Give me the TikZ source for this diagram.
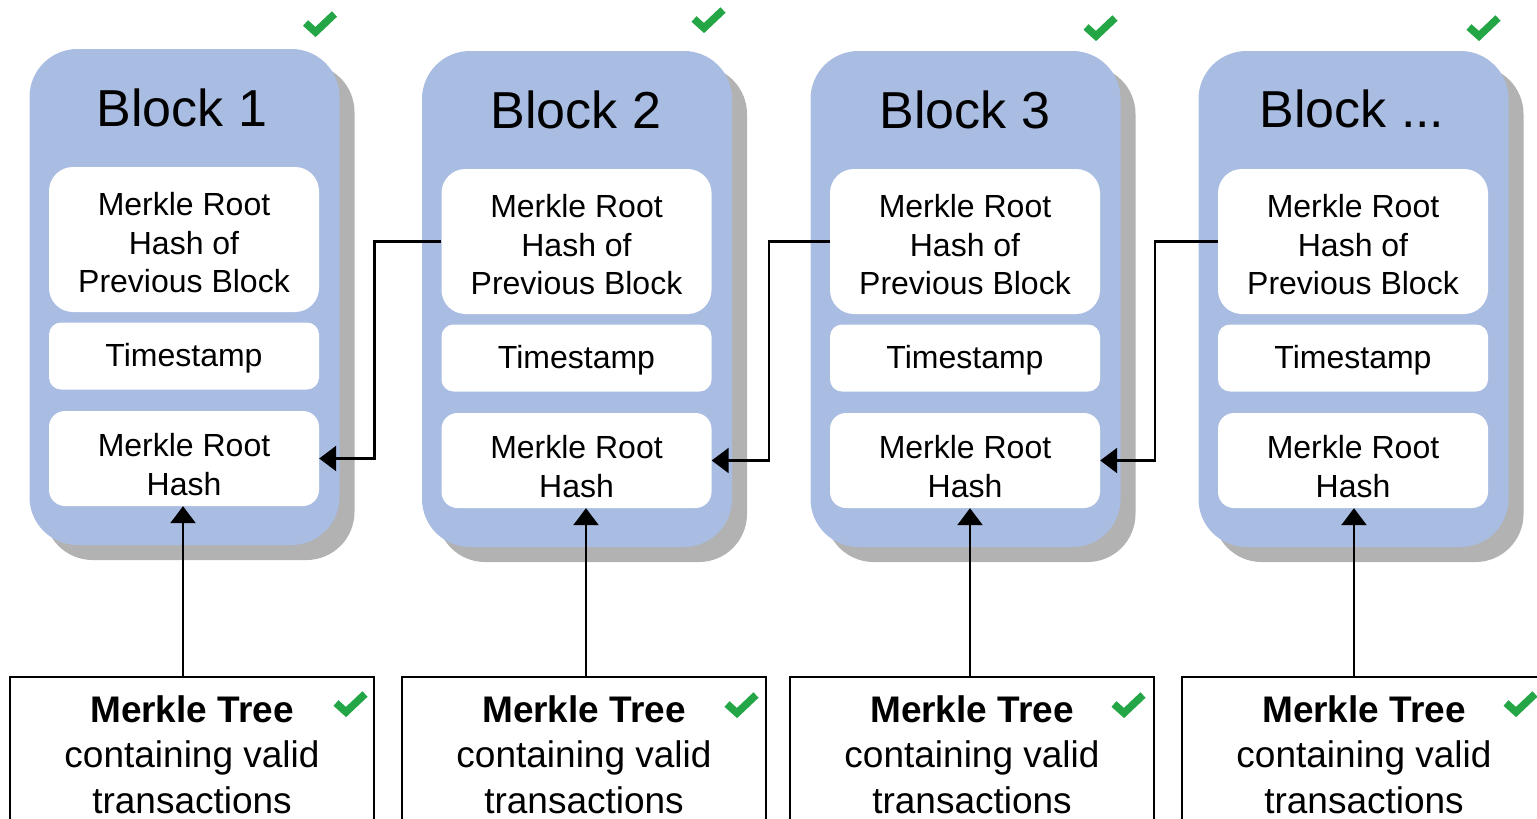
\documentclass[tikz,border=0pt]{standalone}
\usepackage{fontspec}
\setmainfont{Liberation Sans}
\usetikzlibrary{arrows.meta}
\definecolor{blockblue}{RGB}{169,188,226}
\definecolor{shadowgray}{RGB}{178,178,178}
\definecolor{chkgreen}{RGB}{36,166,70}
\begin{document}
\begin{tikzpicture}[x=1pt,y=-1pt,
  shadowbox/.style={fill=shadowgray, rounded corners=48pt, minimum width=310pt, minimum height=496pt, inner sep=0pt},
  blockbox/.style={fill=blockblue, rounded corners=48pt, minimum width=310pt, minimum height=496pt, inner sep=0pt},
  titletext/.style={anchor=base, inner sep=0pt, font=\fontsize{52}{60}\selectfont},
  intext/.style={align=center, inner sep=0pt, yshift=-3.5pt, font=\fontsize{32}{38.5}\selectfont},
  prevbox/.style={fill=white, rounded corners=24pt, minimum width=270pt, minimum height=145pt, inner sep=0pt},
  tsbox/.style={fill=white, rounded corners=12pt, minimum width=270pt, minimum height=67pt, inner sep=0pt},
  mrbox/.style={fill=white, rounded corners=16pt, minimum width=270pt, minimum height=95pt, inner sep=0pt},
  treebox/.style={draw=black, line width=1.5pt, fill=white, minimum width=364pt, minimum height=163pt, inner sep=0pt},
  treetext/.style={anchor=north, inner sep=0pt, align=center, font=\fontsize{37}{45.5}\selectfont},
  conn/.style={draw=black, line width=2.5pt},
  arr/.style={conn, -{Triangle[length=17pt,width=25pt]}},
  okmark/.pic={\draw[chkgreen, line width=7.5pt, line join=miter, line cap=butt] (-14,-1) -- (-4,8) -- (15,-10);}
]
\useasboundingbox (0,0) rectangle (1537,819);

% shadows
\node[shadowbox] (sh1) at (199.5,312) {};
\node[shadowbox] (sh2) at (592,314) {};
\node[shadowbox] (sh3) at (980.5,314) {};
\node[shadowbox] (sh4) at (1368.5,314) {};

% blocks
\node[blockbox] (b1) at (184.5,297) {};
\node[blockbox] (b2) at (577,299) {};
\node[blockbox] (b3) at (965.5,299) {};
\node[blockbox] (b4) at (1353.5,299) {};

\node[titletext] (t1) at (182,126) {Block 1};
\node[titletext] (t2) at (576,128) {Block 2};
\node[titletext] (t3) at (965,128) {Block 3};
\node[titletext] (t4) at (1352,127) {Block ...};

% inner boxes
\node[prevbox, label={[intext]center:{Merkle Root\\Hash of\\Previous Block}}] (p1) at (184,239.5) {};
\node[tsbox,   label={[intext, yshift=1pt]center:Timestamp}] (ts1) at (184,356) {};
\node[mrbox,   label={[intext, yshift=-2.5pt]center:{Merkle Root\\Hash}}] (mr1) at (184,458.5) {};

\node[prevbox, label={[intext]center:{Merkle Root\\Hash of\\Previous Block}}] (p2) at (576.5,241.5) {};
\node[tsbox,   label={[intext, yshift=1pt]center:Timestamp}] (ts2) at (576.5,358) {};
\node[mrbox,   label={[intext, yshift=-2.5pt]center:{Merkle Root\\Hash}}] (mr2) at (576.5,460.5) {};

\node[prevbox, label={[intext]center:{Merkle Root\\Hash of\\Previous Block}}] (p3) at (965,241.5) {};
\node[tsbox,   label={[intext, yshift=1pt]center:Timestamp}] (ts3) at (965,358) {};
\node[mrbox,   label={[intext, yshift=-2.5pt]center:{Merkle Root\\Hash}}] (mr3) at (965,460.5) {};

\node[prevbox, label={[intext]center:{Merkle Root\\Hash of\\Previous Block}}] (p4) at (1353,241.5) {};
\node[tsbox,   label={[intext, yshift=1pt]center:Timestamp}] (ts4) at (1353,358) {};
\node[mrbox,   label={[intext, yshift=-2.5pt]center:{Merkle Root\\Hash}}] (mr4) at (1353,460.5) {};

% merkle tree boxes
\node[treebox] (mt1) at (192,758.5) {};
\node[treebox] (mt2) at (584,758.5) {};
\node[treebox] (mt3) at (972,758.5) {};
\node[treebox] (mt4) at (1364,758.5) {};

\node[treetext] (mtt1) at (192,695) {\textbf{Merkle Tree}\\containing valid\\transactions};
\node[treetext] (mtt2) at (584,695) {\textbf{Merkle Tree}\\containing valid\\transactions};
\node[treetext] (mtt3) at (972,695) {\textbf{Merkle Tree}\\containing valid\\transactions};
\node[treetext] (mtt4) at (1364,695) {\textbf{Merkle Tree}\\containing valid\\transactions};

% chain connectors
\draw[arr] (p2.west) -- ++(-67,0) |- (mr1.east);
\draw[arr] (p3.west) -- ++(-61,0) |- (mr2.east);
\draw[arr] (p4.west) -- ++(-63,0) |- (mr3.east);

% merkle tree to merkle root
\draw[arr] (183,0 |- mt1.north) -- (183,0 |- mr1.south);
\draw[arr] (586,0 |- mt2.north) -- (586,0 |- mr2.south);
\draw[arr] (970,0 |- mt3.north) -- (970,0 |- mr3.south);
\draw[arr] (1354,0 |- mt4.north) -- (1354,0 |- mr4.south);

% check marks
\pic at (319.5,24) {okmark};
\pic at (708,20) {okmark};
\pic at (1100,28) {okmark};
\pic at (1483,28) {okmark};
\pic at (350,704) {okmark};
\pic at (741,705) {okmark};
\pic at (1128,705) {okmark};
\pic at (1520,704) {okmark};
\end{tikzpicture}
\end{document}
